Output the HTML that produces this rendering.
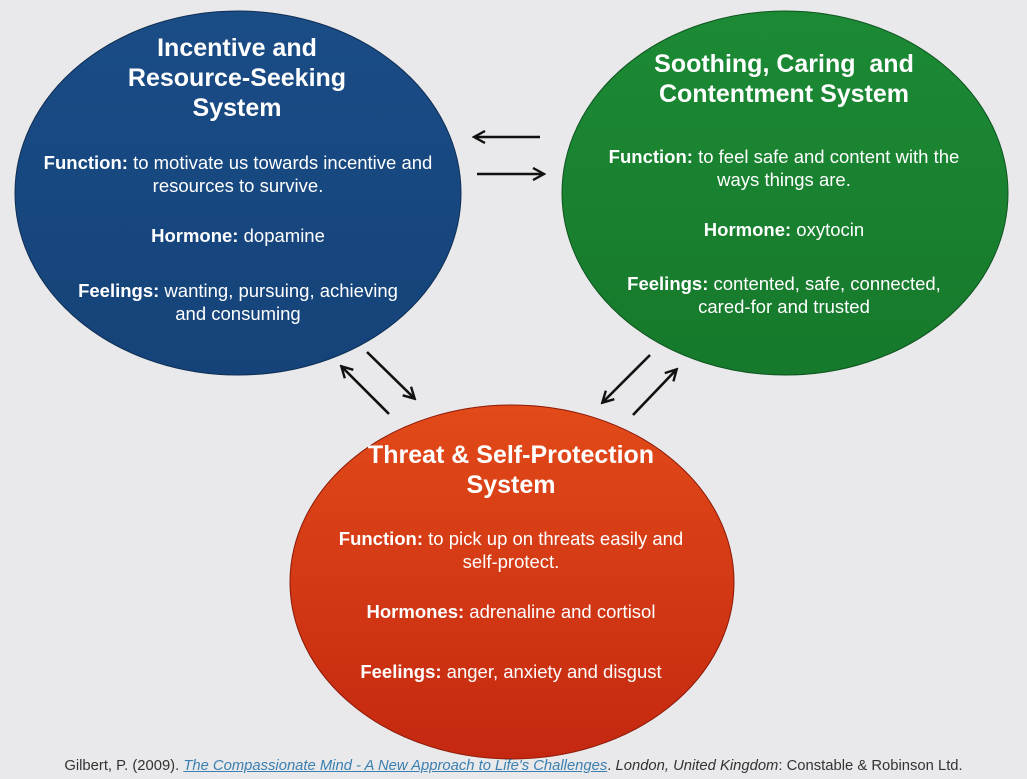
<!DOCTYPE html>
<html><head><meta charset="utf-8"><style>
html,body{margin:0;padding:0;background:#e9e9eb;}
body{width:1027px;height:779px;position:relative;overflow:hidden;font-family:"Liberation Sans",Arial,sans-serif;}
.t{position:absolute;color:#fff;text-align:center;width:560px;}
.h{font-weight:bold;font-size:25px;line-height:30px;}
.b{font-size:18.5px;line-height:23px;}
.b b{font-weight:bold;}
.cite{position:absolute;left:0;width:1027px;top:758px;text-align:center;font-size:14.8px;color:#333;}
.cite a{color:#3a7fb0;font-style:italic;text-decoration:underline;}
</style></head><body>
<svg width="1027" height="779" style="position:absolute;left:0;top:0">
<defs>
<linearGradient id="r" x1="0" y1="0" x2="0" y2="1"><stop offset="0" stop-color="#e24a19"/><stop offset="1" stop-color="#c42810"/></linearGradient>
<linearGradient id="bl" x1="0" y1="0" x2="0" y2="1"><stop offset="0" stop-color="#1a4c86"/><stop offset="1" stop-color="#154379"/></linearGradient>
<linearGradient id="gr" x1="0" y1="0" x2="0" y2="1"><stop offset="0" stop-color="#1c8a35"/><stop offset="1" stop-color="#16792b"/></linearGradient>
<marker id="a" markerWidth="14" markerHeight="14" refX="11" refY="7" orient="auto" markerUnits="userSpaceOnUse"><path d="M1,1 L12,7 L1,13" fill="none" stroke="#111" stroke-width="2.4"/></marker>
</defs>
<ellipse cx="238" cy="193" rx="223" ry="182" fill="url(#bl)" stroke="#0f2f55" stroke-width="1"/>
<ellipse cx="785" cy="193" rx="223" ry="182" fill="url(#gr)" stroke="#0e5520" stroke-width="1"/>
<ellipse cx="512" cy="582" rx="222" ry="177" fill="url(#r)" stroke="#8a1a08" stroke-width="1"/>
<g stroke="#111" stroke-width="2.6" fill="none" marker-end="url(#a)">
<line x1="540" y1="137" x2="475" y2="137"/>
<line x1="477" y1="174" x2="543" y2="174"/>
<line x1="367" y1="352" x2="414" y2="398"/>
<line x1="389" y1="414" x2="342" y2="367"/>
<line x1="650" y1="355" x2="603" y2="402"/>
<line x1="633" y1="415" x2="676" y2="370"/>
</g>
</svg>
<div class="t h" style="left:-43px;top:33px">Incentive and<br>Resource-Seeking<br>System</div>
<div class="t b" style="left:-42px;top:151px"><b>Function:</b> to motivate us towards incentive and<br>resources to survive.</div>
<div class="t b" style="left:-42px;top:224px"><b>Hormone:</b> dopamine</div>
<div class="t b" style="left:-42px;top:279px"><b>Feelings:</b> wanting, pursuing, achieving<br>and consuming</div>
<div class="t h" style="left:504px;top:49px">Soothing, Caring&nbsp; and<br>Contentment System</div>
<div class="t b" style="left:504px;top:145px"><b>Function:</b> to feel safe and content with the<br>ways things are.</div>
<div class="t b" style="left:504px;top:218px"><b>Hormone:</b> oxytocin</div>
<div class="t b" style="left:504px;top:272px"><b>Feelings:</b> contented, safe, connected,<br>cared-for and trusted</div>
<div class="t h" style="left:231px;top:440px">Threat &amp; Self-Protection<br>System</div>
<div class="t b" style="left:231px;top:527px"><b>Function:</b> to pick up on threats easily and<br>self-protect.</div>
<div class="t b" style="left:231px;top:600px"><b>Hormones:</b> adrenaline and cortisol</div>
<div class="t b" style="left:231px;top:660px"><b>Feelings:</b> anger, anxiety and disgust</div>
<div class="cite">Gilbert, P. (2009). <a>The Compassionate Mind - A New Approach to Life's Challenges</a>. <i>London, United Kingdom</i>: Constable &amp; Robinson Ltd.</div>
</body></html>
